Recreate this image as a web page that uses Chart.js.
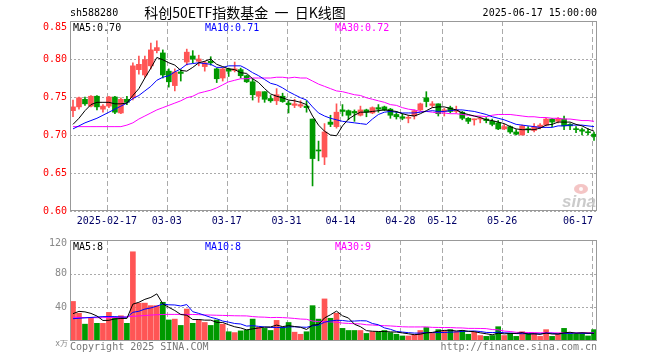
<!DOCTYPE html>
<html>
<head>
<meta charset="utf-8">
<script src="https://cdn.jsdelivr.net/npm/chart.js@4.4.1/dist/chart.umd.min.js"></script>
<style>
  body { margin: 0; background: #fff; }
  #wrap { position: relative; width: 660px; height: 360px; }
  canvas { position: absolute; left: 0; top: 0; }
</style>
</head>
<body>
<div id="wrap">
  <canvas id="kChart" width="660" height="360"></canvas>
  <canvas id="volChart" width="660" height="360"></canvas>
</div>
<script>
// trading days shown (2025)
const dates = ['02-07','02-10','02-11','02-12','02-13','02-14','02-17','02-18','02-19','02-20','02-21','02-24','02-25','02-26','02-27','02-28',
  '03-03','03-04','03-05','03-06','03-07','03-10','03-11','03-12','03-13','03-14','03-17','03-18','03-19','03-20','03-21','03-24','03-25','03-26','03-27','03-28','03-31',
  '04-01','04-02','04-03','04-07','04-08','04-09','04-10','04-11','04-14','04-15','04-16','04-17','04-18','04-21','04-22','04-23','04-24','04-25','04-28','04-29','04-30',
  '05-06','05-07','05-08','05-09','05-12','05-13','05-14','05-15','05-16','05-19','05-20','05-21','05-22','05-23','05-26','05-27','05-28','05-29','05-30',
  '06-03','06-04','06-05','06-06','06-09','06-10','06-11','06-12','06-13','06-16','06-17'];
const tickDates = ['02-17','03-03','03-17','03-31','04-14','04-28','05-12','05-26','06-17'];
const priceTicks = [0.85, 0.80, 0.75, 0.70, 0.65, 0.60];
const volTicks = [120, 80, 40];

const opens = [0.732,0.737,0.747,0.738,0.751,0.734,0.738,0.750,0.729,0.747,
  0.749,0.786,0.779,0.791,0.811,0.808,0.784,0.765,0.783,0.796,
  0.804,0.797,0.790,0.797,0.787,0.775,0.787,0.785,0.786,0.778,
  0.770,0.751,0.757,0.748,0.745,0.751,0.742,0.739,0.738,0.738,
  0.721,0.680,0.671,0.717,0.711,0.733,0.732,0.731,0.726,0.733,
  0.729,0.736,0.737,0.734,0.727,0.724,0.722,0.725,0.733,0.749,
  0.739,0.741,0.731,0.736,0.731,0.730,0.722,0.720,0.721,0.721,
  0.718,0.716,0.708,0.711,0.704,0.700,0.708,0.706,0.710,0.713,
  0.721,0.718,0.721,0.714,0.708,0.707,0.704,0.701];
const highs = [0.746,0.750,0.750,0.752,0.752,0.740,0.751,0.751,0.749,0.751,
  0.795,0.804,0.804,0.821,0.824,0.812,0.787,0.787,0.786,0.813,
  0.811,0.805,0.797,0.803,0.788,0.788,0.788,0.796,0.788,0.779,
  0.774,0.757,0.757,0.752,0.761,0.755,0.745,0.747,0.745,0.745,
  0.721,0.692,0.715,0.726,0.741,0.740,0.733,0.733,0.738,0.734,
  0.737,0.740,0.738,0.735,0.731,0.728,0.726,0.733,0.742,0.757,
  0.744,0.741,0.735,0.738,0.738,0.731,0.723,0.721,0.724,0.723,
  0.721,0.719,0.714,0.712,0.707,0.713,0.711,0.715,0.715,0.722,
  0.722,0.723,0.725,0.715,0.711,0.709,0.708,0.704];
const lows = [0.724,0.734,0.739,0.737,0.733,0.730,0.736,0.728,0.728,0.740,
  0.746,0.780,0.776,0.787,0.808,0.775,0.763,0.758,0.771,0.792,
  0.795,0.791,0.784,0.792,0.769,0.771,0.777,0.783,0.775,0.769,
  0.746,0.743,0.743,0.743,0.740,0.743,0.729,0.736,0.736,0.730,
  0.633,0.666,0.661,0.711,0.709,0.725,0.720,0.718,0.725,0.724,
  0.728,0.730,0.732,0.722,0.721,0.720,0.716,0.721,0.732,0.737,
  0.736,0.725,0.725,0.729,0.729,0.720,0.715,0.713,0.716,0.716,
  0.712,0.707,0.707,0.702,0.700,0.700,0.703,0.704,0.708,0.712,
  0.711,0.716,0.707,0.707,0.703,0.700,0.700,0.693];
const closes = [0.737,0.749,0.741,0.751,0.737,0.738,0.750,0.730,0.747,0.743,
  0.791,0.793,0.799,0.812,0.815,0.779,0.770,0.783,0.781,0.809,
  0.800,0.800,0.795,0.795,0.774,0.787,0.784,0.787,0.778,0.770,
  0.753,0.757,0.747,0.745,0.753,0.744,0.740,0.741,0.740,0.736,
  0.669,0.679,0.704,0.714,0.730,0.731,0.726,0.729,0.733,0.730,
  0.736,0.734,0.733,0.726,0.724,0.722,0.723,0.732,0.741,0.744,
  0.741,0.728,0.733,0.731,0.733,0.722,0.718,0.721,0.722,0.719,
  0.714,0.708,0.711,0.704,0.701,0.712,0.707,0.711,0.713,0.721,
  0.717,0.722,0.712,0.712,0.707,0.705,0.703,0.698];

const ma5 = [0.714,0.722,0.732,0.740,0.743,0.743,0.743,0.741,0.741,0.742,
  0.752,0.761,0.775,0.788,0.802,0.799,0.795,0.792,0.785,0.784,
  0.789,0.795,0.797,0.800,0.793,0.790,0.787,0.786,0.782,0.781,
  0.774,0.769,0.761,0.754,0.751,0.749,0.746,0.745,0.743,0.740,
  0.725,0.713,0.705,0.700,0.699,0.712,0.721,0.726,0.730,0.730,
  0.731,0.732,0.733,0.732,0.731,0.728,0.726,0.725,0.728,0.732,
  0.736,0.737,0.737,0.735,0.733,0.729,0.727,0.725,0.723,0.720,
  0.719,0.717,0.715,0.711,0.708,0.707,0.707,0.707,0.709,0.713,
  0.714,0.717,0.717,0.717,0.714,0.712,0.708,0.705];
const ma10 = [0.708,0.712,0.716,0.719,0.722,0.726,0.730,0.734,0.738,0.742,
  0.748,0.752,0.758,0.764,0.772,0.776,0.778,0.783,0.787,0.793,
  0.794,0.795,0.794,0.793,0.789,0.789,0.791,0.791,0.791,0.787,
  0.782,0.778,0.773,0.768,0.766,0.762,0.757,0.753,0.749,0.746,
  0.737,0.729,0.725,0.722,0.720,0.718,0.717,0.716,0.715,0.714,
  0.721,0.727,0.730,0.731,0.730,0.729,0.729,0.729,0.730,0.731,
  0.732,0.731,0.731,0.732,0.733,0.733,0.732,0.731,0.729,0.727,
  0.724,0.722,0.720,0.717,0.714,0.713,0.712,0.711,0.710,0.710,
  0.710,0.712,0.712,0.713,0.713,0.713,0.712,0.711];
const ma30 = [0.711,0.711,0.711,0.711,0.711,0.711,0.711,0.711,0.711,0.713,
  0.716,0.721,0.725,0.729,0.733,0.736,0.739,0.742,0.745,0.749,
  0.751,0.755,0.757,0.759,0.762,0.766,0.770,0.772,0.774,0.774,
  0.775,0.775,0.775,0.775,0.776,0.776,0.775,0.776,0.775,0.775,
  0.771,0.767,0.764,0.761,0.758,0.757,0.755,0.753,0.752,0.749,
  0.747,0.745,0.743,0.740,0.739,0.736,0.734,0.733,0.731,0.731,
  0.730,0.729,0.729,0.728,0.728,0.727,0.726,0.725,0.725,0.724,
  0.726,0.727,0.727,0.727,0.726,0.725,0.724,0.724,0.723,0.723,
  0.722,0.722,0.721,0.721,0.720,0.719,0.719,0.718];

const volumes = [47,33,20,28,21,21,34,28,30,21,
  106,45,45,42,42,46,25,26,18.5,38,
  21,25,22,18.5,25,20,11,10,12,13,
  26,16.5,15,12.5,24.5,16.5,22,10.5,8,11,
  42,26,50,27,33,15,12.5,12.5,12.5,9,
  11,11,12.5,10,8,6,6,7.5,12.5,16,
  9,13.5,12.5,13.5,11,12.5,8,10.5,6.5,5.5,
  6.5,17,6.5,9,5.5,11,8.5,8.5,5.5,13.5,
  5.5,8.5,15,9,8,8.5,6,13.5];
const volMa5 = [32.5,35.2,34.6,32.8,29.7,24.4,24.6,26.2,26.8,26.8,
  43.8,46,49.5,51.8,56,44.1,40,36.2,31.5,30.6,
  25.5,25.5,24.8,24.8,22.2,22,19.3,16.9,15.5,13.2,
  14.4,15.5,16.5,16.7,18.9,17.1,18.2,17.2,16.3,13.7,
  18.9,19.6,27.4,31.2,35.5,30,27.3,19.9,17,12.3,
  11.6,11.3,11.3,10.8,10.6,9.6,8.6,7.5,8.1,9.6,
  10.2,11.6,12.6,12.8,11.9,12.6,11.5,11.1,9.7,8.6,
  7.4,9.3,8.5,9,9,10,8.2,8.6,7.9,9.5,
  8.3,8.3,9.6,10.4,9.2,9.8,9.4,9.1];
const volMa10 = [26.5,27,27.5,28,28.5,29,29,29,28.5,28.2,
  34.1,35.3,37.9,39.3,41.4,44,43,42.8,41.6,43.3,
  34.8,32.8,30.5,28.1,26.4,23.7,22.4,20.8,20.2,17.7,
  18.2,17.4,16.7,16.1,16.1,15.8,16.8,16.9,16.5,16.3,
  18,18.9,22.3,23.8,24.6,24.4,23.5,23.7,24.1,23.9,
  20.8,19.3,15.6,13.9,11.4,10.6,9.9,9.4,9.4,10.1,
  9.9,10.1,10.1,10.5,10.8,11.4,11.6,11.9,11.3,10.2,
  10,10.4,9.8,9.4,8.8,8.7,8.8,8.6,8.5,9.3,
  9.2,8.3,9.1,9.1,9.4,9.1,8.9,9.4];
const volMa30 = [28.4,28,27.8,27.7,27.7,27.7,27.8,28,28.3,28.7,
  29.3,29.8,30.3,30.8,31.2,31.5,31.6,31.6,31.6,31.6,
  31.5,31.3,31,30.8,30.6,30.4,30.2,30,29.9,29.8,
  29,28.5,28.3,27.8,28,27.8,27.4,26.8,26.1,25.8,
  23.7,23,23.2,22.7,22.4,21.3,20.9,20.5,20.3,19.3,
  19,18.5,18.2,17.9,17.4,16.9,16.7,16.7,16.7,16.8,
  16.2,16.1,16,16,15.6,15.5,15,15,14.9,14.7,
  13.6,13.3,11.8,11.3,10.3,10.2,10.1,10,9.7,9.9,
  9.7,9.6,9.7,9.7,9.6,9.7,9.7,9.9];

const RED = '#ff5555';
const GREEN = '#009900';
const GRID = '#aaaaaa';
const MONO = '"DejaVu Sans Mono", "Liberation Mono", monospace';

const barColors = closes.map((c, i) => (c >= opens[i] ? RED : GREEN));
const bodies = opens.map((o, i) => [o, closes[i]]);
const wicks = lows.map((l, i) => [l, highs[i]]);

function maLine(label, data, color) {
  return {
    type: 'line', label, data,
    borderColor: color, borderWidth: 1,
    pointRadius: 0, tension: 0, fill: false, order: 0
  };
}

// dashed / dotted grid drawn from the scales
function drawGrid(chart, yTicks) {
  const { ctx, chartArea: a, scales } = chart;
  ctx.save();
  ctx.strokeStyle = GRID;
  ctx.lineWidth = 1;
  ctx.setLineDash([2, 2]);
  yTicks.forEach(v => {
    const y = Math.round(scales.y.getPixelForValue(v)) + 0.5;
    ctx.beginPath(); ctx.moveTo(a.left, y); ctx.lineTo(a.right, y); ctx.stroke();
  });
  ctx.setLineDash([5, 3]);
  tickDates.forEach(d => {
    const x = Math.round(scales.x.getPixelForValue(dates.indexOf(d))) - 1.5;
    ctx.beginPath(); ctx.moveTo(x, a.top); ctx.lineTo(x, a.bottom); ctx.stroke();
  });
  ctx.restore();
}

function drawFrame(chart) {
  const { ctx, chartArea: a } = chart;
  ctx.save();
  ctx.strokeStyle = '#999999';
  ctx.lineWidth = 1;
  ctx.strokeRect(a.left + 0.5, a.top + 0.5, a.right - a.left - 1, a.bottom - a.top - 1);
  ctx.restore();
}

const priceDecor = {
  id: 'priceDecor',
  beforeDatasetsDraw(chart) {
    drawGrid(chart, priceTicks);
  },
  afterDraw(chart) {
    const { ctx, chartArea: a, scales } = chart;
    drawFrame(chart);
    ctx.save();
    ctx.font = '10px ' + MONO;
    ctx.textBaseline = 'middle';

    // y labels
    ctx.fillStyle = '#ff0000';
    ctx.textAlign = 'right';
    priceTicks.forEach(v => {
      let y = scales.y.getPixelForValue(v);
      y = Math.max(y, a.top + 6);
      ctx.fillText(v.toFixed(2), a.left - 3, y);
    });

    // x labels
    ctx.fillStyle = '#000066';
    ctx.textAlign = 'center';
    tickDates.forEach((d, i) => {
      const txt = i === 0 ? '2025-' + d : d;
      let x = scales.x.getPixelForValue(dates.indexOf(d)) - 2;
      const w = ctx.measureText(txt).width;
      x = Math.min(x, a.right - 4 - w / 2);
      ctx.fillText(txt, x, a.bottom + 10);
    });

    // header
    ctx.fillStyle = '#000';
    ctx.textAlign = 'left';
    ctx.fillText('sh588280', a.left, 13);
    ctx.textAlign = 'right';
    ctx.fillText('2025-06-17 15:00:00', a.right, 13);
    ctx.textAlign = 'center';
    ctx.font = '14px "Noto Sans CJK SC", sans-serif';
    ctx.fillText('科创50ETF指数基金  一  日K线图', 245, 13);

    // MA legend
    ctx.font = '10px ' + MONO;
    ctx.textAlign = 'left';
    ctx.fillStyle = '#000000'; ctx.fillText('MA5:0.70', a.left + 3, a.top + 7);
    ctx.fillStyle = '#0000ff'; ctx.fillText('MA10:0.71', 205, a.top + 7);
    ctx.fillStyle = '#ff00ff'; ctx.fillText('MA30:0.72', 335, a.top + 7);

    // sina mark
    ctx.fillStyle = 'rgba(235,150,150,0.55)';
    ctx.beginPath(); ctx.ellipse(581, a.bottom - 22, 7, 5, 0, 0, Math.PI * 2); ctx.fill();
    ctx.fillStyle = 'rgba(255,255,255,0.9)';
    ctx.beginPath(); ctx.arc(581, a.bottom - 22, 2, 0, Math.PI * 2); ctx.fill();
    ctx.fillStyle = 'rgba(190,190,190,0.8)';
    ctx.font = 'italic bold 17px "Liberation Sans", sans-serif';
    ctx.textAlign = 'right';
    ctx.fillText('sina', a.right - 1, a.bottom - 9);
    ctx.restore();
  }
};

const volDecor = {
  id: 'volDecor',
  beforeDatasetsDraw(chart) {
    drawGrid(chart, [80, 40]);
  },
  afterDraw(chart) {
    const { ctx, chartArea: a, scales } = chart;
    drawFrame(chart);
    ctx.save();
    ctx.font = '10px ' + MONO;
    ctx.textBaseline = 'middle';
    ctx.fillStyle = '#888888';
    ctx.textAlign = 'right';
    volTicks.forEach(v => {
      let y = scales.y.getPixelForValue(v);
      y = Math.max(y, a.top + 3);
      ctx.fillText(String(v), a.left - 3, y);
    });
    ctx.font = '8px ' + MONO;
    ctx.fillText('x万', a.left - 2, a.bottom + 3);

    ctx.font = '10px ' + MONO;
    ctx.textAlign = 'left';
    ctx.fillStyle = '#000000'; ctx.fillText('MA5:8', a.left + 3, a.top + 7);
    ctx.fillStyle = '#0000ff'; ctx.fillText('MA10:8', 205, a.top + 7);
    ctx.fillStyle = '#ff00ff'; ctx.fillText('MA30:9', 335, a.top + 7);

    ctx.fillStyle = '#777777';
    ctx.fillText('Copyright 2025 SINA.COM', a.left, a.bottom + 6);
    ctx.textAlign = 'right';
    ctx.fillText('http://finance.sina.com.cn', a.right, a.bottom + 6);
    ctx.restore();
  }
};

const common = {
  responsive: false,
  animation: false,
  events: [],
  plugins: { legend: { display: false }, tooltip: { enabled: false } }
};

new Chart(document.getElementById('kChart'), {
  type: 'bar',
  data: {
    labels: dates,
    datasets: [
      maLine('MA5', ma5, '#000000'),
      maLine('MA10', ma10, '#0000ff'),
      maLine('MA30', ma30, '#ff00ff'),
      { type: 'bar', label: 'body', data: bodies, backgroundColor: barColors,
        barThickness: 5, grouped: false, minBarLength: 1, order: 2 },
      { type: 'bar', label: 'wick', data: wicks, backgroundColor: barColors,
        barThickness: 1, grouped: false, order: 3 }
    ]
  },
  options: Object.assign({}, common, {
    layout: { padding: { left: 70, right: 63, top: 21, bottom: 149 } },
    scales: {
      x: { display: false, offset: true },
      y: { display: false, min: 0.6, max: 0.85 }
    }
  }),
  plugins: [priceDecor]
});

new Chart(document.getElementById('volChart'), {
  type: 'bar',
  data: {
    labels: dates,
    datasets: [
      maLine('MA5', volMa5, '#000000'),
      maLine('MA10', volMa10, '#0000ff'),
      maLine('MA30', volMa30, '#ff00ff'),
      { type: 'bar', label: 'vol', data: volumes, backgroundColor: barColors,
        barThickness: 5, order: 2 }
    ]
  },
  options: Object.assign({}, common, {
    layout: { padding: { left: 70, right: 63, top: 240, bottom: 19 } },
    scales: {
      x: { display: false, offset: true },
      y: { display: false, min: 0, max: 120 }
    }
  }),
  plugins: [volDecor]
});
</script>
</body>
</html>
